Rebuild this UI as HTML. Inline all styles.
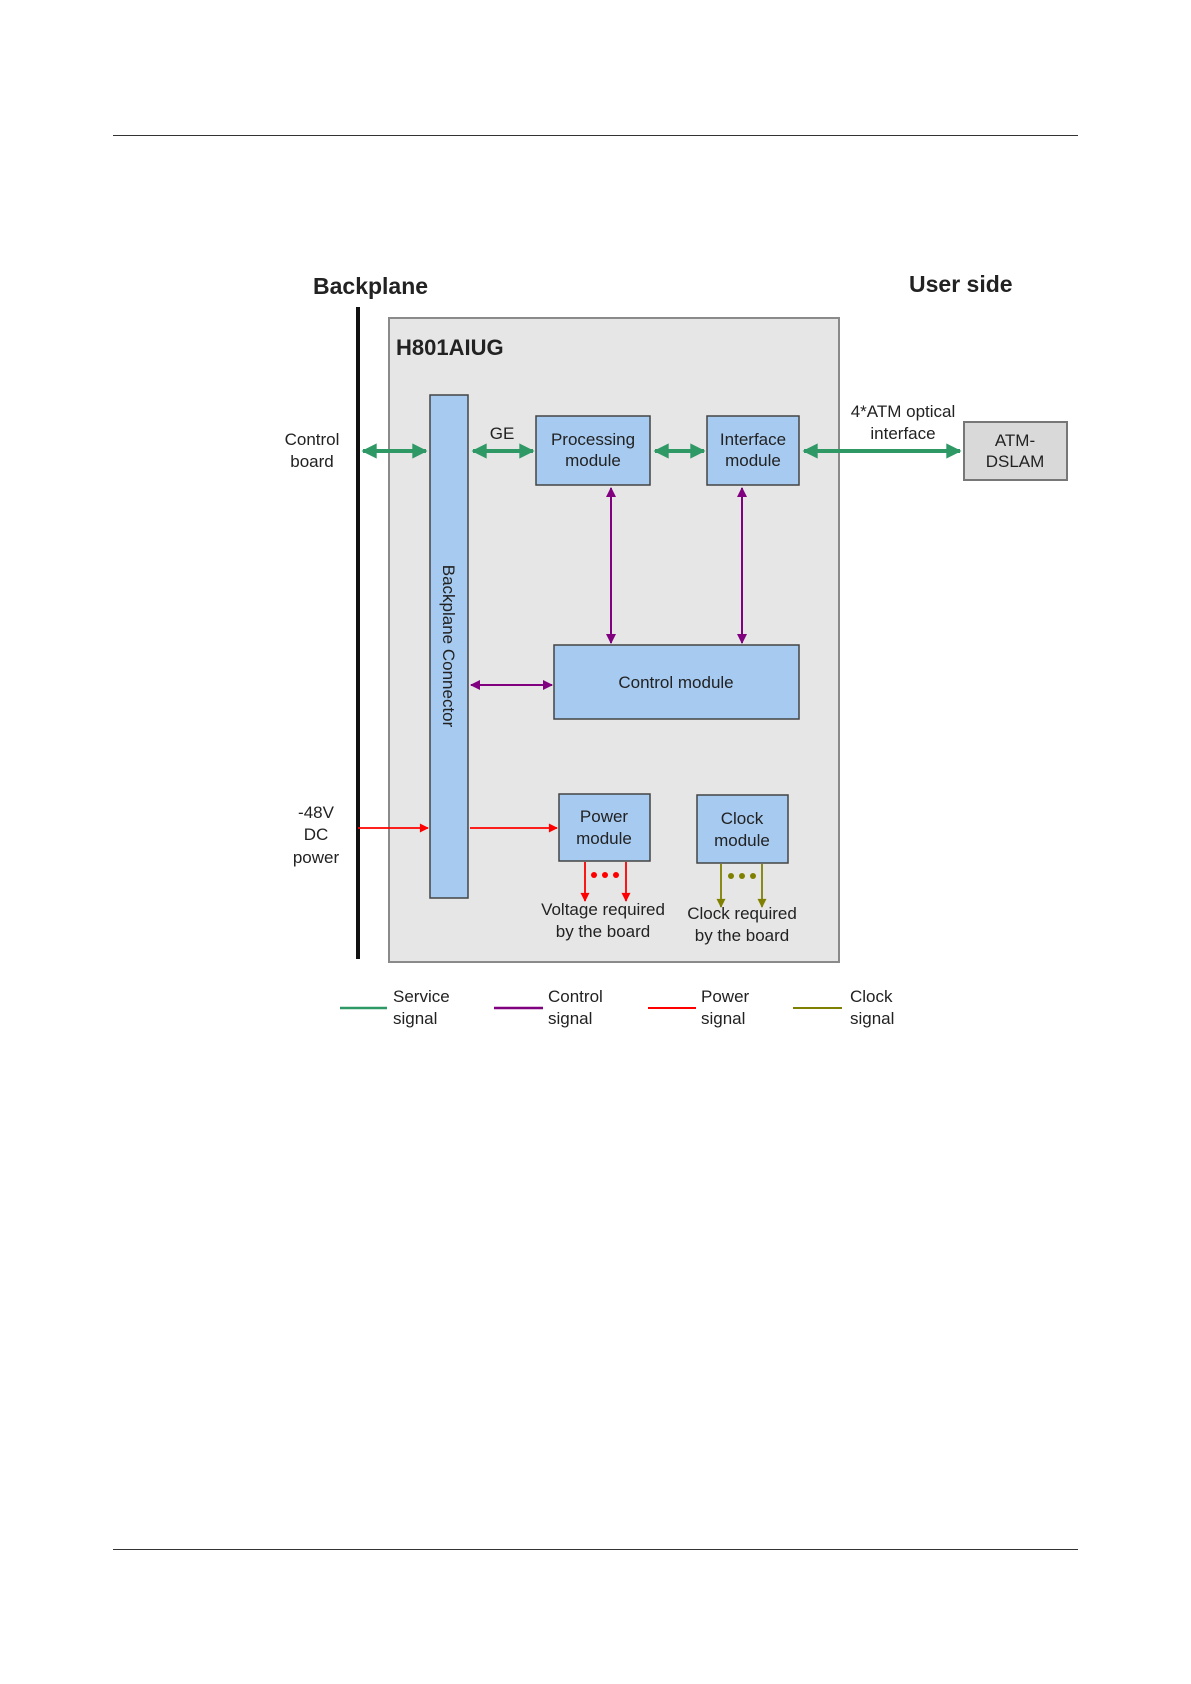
<!DOCTYPE html>
<html><head><meta charset="utf-8"><style>
html,body{margin:0;padding:0;background:#fff}
svg{display:block}
text{font-family:"Liberation Sans",Arial,sans-serif;fill:#222}
</style></head><body>
<svg width="1191" height="1684" viewBox="0 0 1191 1684" xmlns="http://www.w3.org/2000/svg">
<defs>
<marker id="g" viewBox="0 0 10 10" refX="9" refY="5" markerWidth="4.5" markerHeight="3.8" orient="auto-start-reverse" markerUnits="strokeWidth"><path d="M0,0 L10,5 L0,10 z" fill="#2f9966"/></marker>
<marker id="p" viewBox="0 0 10 10" refX="9" refY="5" markerWidth="7" markerHeight="5" orient="auto-start-reverse" markerUnits="strokeWidth"><path d="M0,0 L10,5 L0,10 z" fill="#800080"/></marker>
<marker id="r" viewBox="0 0 10 10" refX="9" refY="5" markerWidth="7" markerHeight="5" orient="auto-start-reverse" markerUnits="strokeWidth"><path d="M0,0 L10,5 L0,10 z" fill="#ff0000"/></marker>
<marker id="o" viewBox="0 0 10 10" refX="9" refY="5" markerWidth="7" markerHeight="5" orient="auto-start-reverse" markerUnits="strokeWidth"><path d="M0,0 L10,5 L0,10 z" fill="#808000"/></marker>
</defs>
<line x1="113" y1="135.5" x2="1078" y2="135.5" stroke="#333" stroke-width="1"/>
<line x1="113" y1="1549.5" x2="1078" y2="1549.5" stroke="#333" stroke-width="1"/>

<text x="313" y="294" font-size="23" font-weight="bold" fill="#111">Backplane</text>
<text x="909" y="292" font-size="23" font-weight="bold" fill="#111">User side</text>
<line x1="358" y1="307" x2="358" y2="959" stroke="#111" stroke-width="4"/>

<rect x="389" y="318" width="450" height="644" fill="#e6e6e6" stroke="#8a8a8a" stroke-width="2"/>
<text x="396" y="355" font-size="22" font-weight="bold" fill="#111">H801AIUG</text>

<rect x="430" y="395" width="38" height="503" fill="#a6caf0" stroke="#444" stroke-width="1.5"/>
<text transform="translate(443,646) rotate(90)" text-anchor="middle" font-size="17">Backplane Connector</text>

<rect x="536" y="416" width="114" height="69" fill="#a6caf0" stroke="#444" stroke-width="1.5"/>
<text x="593" y="445" text-anchor="middle" font-size="17">Processing</text>
<text x="593" y="466" text-anchor="middle" font-size="17">module</text>
<rect x="707" y="416" width="92" height="69" fill="#a6caf0" stroke="#444" stroke-width="1.5"/>
<text x="753" y="445" text-anchor="middle" font-size="17">Interface</text>
<text x="753" y="466" text-anchor="middle" font-size="17">module</text>
<rect x="964" y="422" width="103" height="58" fill="#d9d9d9" stroke="#777" stroke-width="2"/>
<text x="1015" y="446" text-anchor="middle" font-size="17">ATM-</text>
<text x="1015" y="467" text-anchor="middle" font-size="17">DSLAM</text>
<rect x="554" y="645" width="245" height="74" fill="#a6caf0" stroke="#444" stroke-width="1.5"/>
<text x="676" y="688" text-anchor="middle" font-size="17">Control module</text>
<rect x="559" y="794" width="91" height="67" fill="#a6caf0" stroke="#444" stroke-width="1.5"/>
<text x="604" y="822" text-anchor="middle" font-size="17">Power</text>
<text x="604" y="844" text-anchor="middle" font-size="17">module</text>
<rect x="697" y="795" width="91" height="68" fill="#a6caf0" stroke="#444" stroke-width="1.5"/>
<text x="742" y="824" text-anchor="middle" font-size="17">Clock</text>
<text x="742" y="846" text-anchor="middle" font-size="17">module</text>

<g stroke="#2f9966" stroke-width="4" fill="none">
<line x1="363" y1="451" x2="426" y2="451" marker-start="url(#g)" marker-end="url(#g)"/>
<line x1="473" y1="451" x2="533" y2="451" marker-start="url(#g)" marker-end="url(#g)"/>
<line x1="655" y1="451" x2="704" y2="451" marker-start="url(#g)" marker-end="url(#g)"/>
<line x1="804" y1="451" x2="960" y2="451" marker-start="url(#g)" marker-end="url(#g)"/>
</g>
<g stroke="#800080" stroke-width="2" fill="none">
<line x1="611" y1="488" x2="611" y2="643" marker-start="url(#p)" marker-end="url(#p)"/>
<line x1="742" y1="488" x2="742" y2="643" marker-start="url(#p)" marker-end="url(#p)"/>
<line x1="471" y1="685" x2="552" y2="685" marker-start="url(#p)" marker-end="url(#p)"/>
</g>
<g stroke="#ff0000" stroke-width="1.8" fill="none">
<line x1="358" y1="828" x2="428" y2="828" marker-end="url(#r)"/>
<line x1="470" y1="828" x2="557" y2="828" marker-end="url(#r)"/>
<line x1="585" y1="862" x2="585" y2="901" marker-end="url(#r)"/>
<line x1="626" y1="862" x2="626" y2="901" marker-end="url(#r)"/>
</g>
<g fill="#ff0000"><circle cx="594" cy="875" r="3"/><circle cx="605" cy="875" r="3"/><circle cx="616" cy="875" r="3"/></g>
<g stroke="#808000" stroke-width="1.8" fill="none">
<line x1="721" y1="864" x2="721" y2="907" marker-end="url(#o)"/>
<line x1="762" y1="864" x2="762" y2="907" marker-end="url(#o)"/>
</g>
<g fill="#808000"><circle cx="731" cy="876" r="3"/><circle cx="742" cy="876" r="3"/><circle cx="753" cy="876" r="3"/></g>

<g font-size="17" text-anchor="middle">
<text x="312" y="445">Control</text><text x="312" y="467">board</text>
<text x="502" y="439">GE</text>
<text x="903" y="417">4*ATM optical</text><text x="903" y="439">interface</text>
<text x="316" y="818">-48V</text><text x="316" y="840">DC</text><text x="316" y="863">power</text>
<text x="603" y="915">Voltage required</text><text x="603" y="937">by the board</text>
<text x="742" y="919">Clock required</text><text x="742" y="941">by the board</text>
</g>

<line x1="340" y1="1008" x2="387" y2="1008" stroke="#2f9966" stroke-width="2.5"/>
<line x1="494" y1="1008" x2="543" y2="1008" stroke="#800080" stroke-width="2.5"/>
<line x1="648" y1="1008" x2="696" y2="1008" stroke="#ff0000" stroke-width="2"/>
<line x1="793" y1="1008" x2="842" y2="1008" stroke="#808000" stroke-width="2"/>
<g font-size="17">
<text x="393" y="1002">Service</text><text x="393" y="1024">signal</text>
<text x="548" y="1002">Control</text><text x="548" y="1024">signal</text>
<text x="701" y="1002">Power</text><text x="701" y="1024">signal</text>
<text x="850" y="1002">Clock</text><text x="850" y="1024">signal</text>
</g>
</svg>
</body></html>
